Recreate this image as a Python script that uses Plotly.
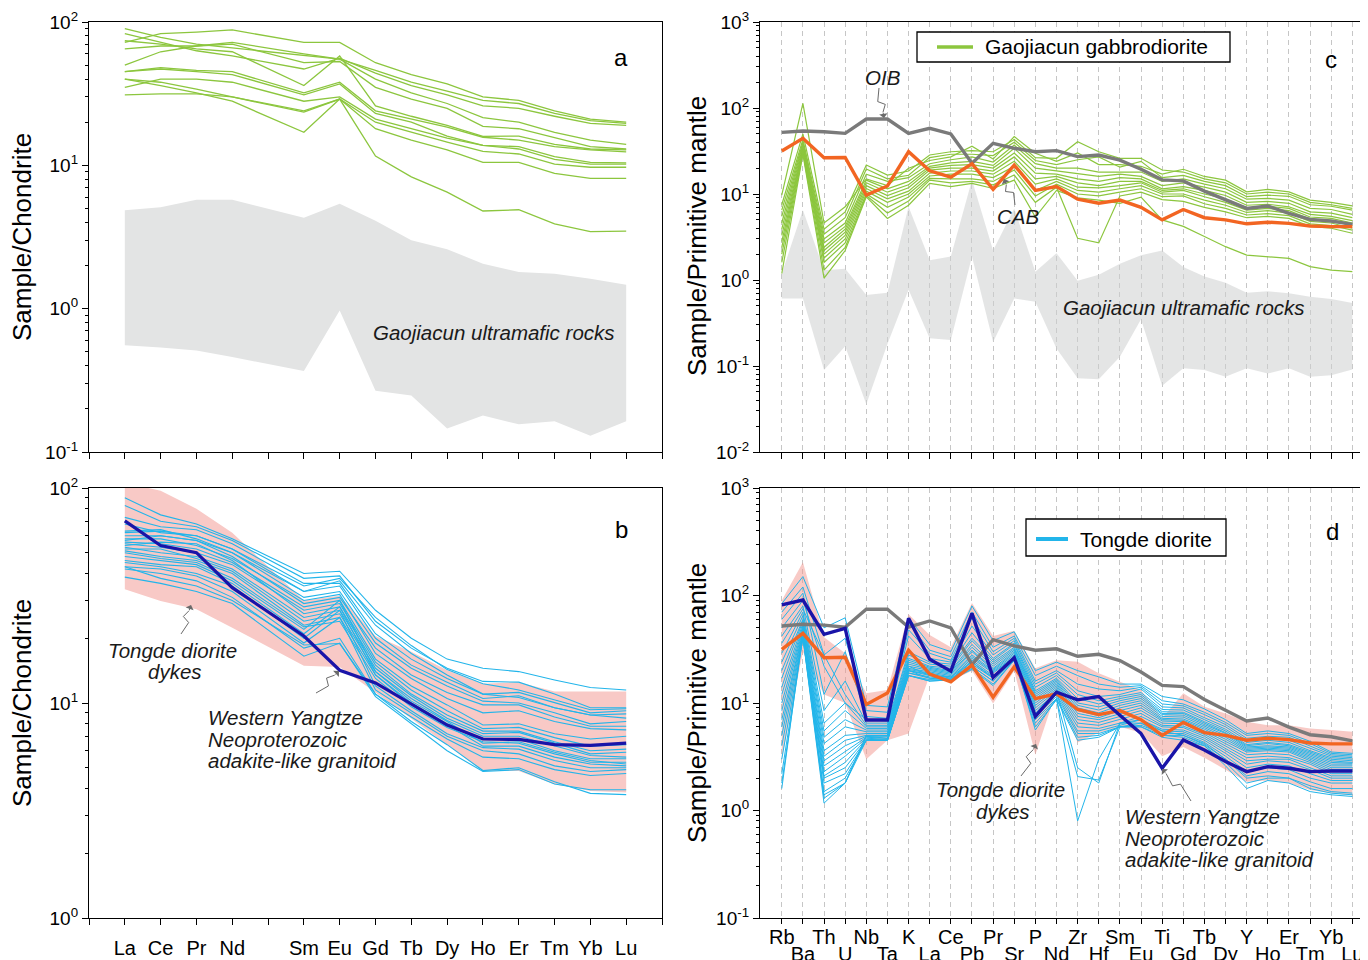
import math
import plotly.graph_objects as go

# The page body has an 8px margin, so the figure is drawn 8px smaller and every
# reference pixel position (x, y) maps to (x - 8, y - 8) inside the figure.
OFF = 8
W, H = 1368 - OFF, 960 - OFF
FONT = "Liberation Sans, Arial, Helvetica, sans-serif"

GREEN = "#8cc63e"
CYAN = "#22b5ea"
BLUE = "#1a14a8"
ORANGE = "#f26522"
OIBGRAY = "#7a7a7a"
BAND_GRAY = "rgba(205,207,207,0.55)"
BAND_PINK = "rgba(242,150,142,0.5)"

# ---------------- categories ----------------
ree_labels = ["La", "Ce", "Pr", "Nd", "Sm", "Eu", "Gd", "Tb", "Dy", "Ho", "Er", "Tm", "Yb", "Lu"]
ree_x = [0, 1, 2, 3, 5, 6, 7, 8, 9, 10, 11, 12, 13, 14]          # Pm slot (4) left empty
spider_labels = ["Rb", "Ba", "Th", "U", "Nb", "Ta", "K", "La", "Ce", "Pb", "Pr", "Sr", "P", "Nd",
                 "Zr", "Hf", "Sm", "Eu", "Ti", "Gd", "Tb", "Dy", "Y", "Ho", "Er", "Tm", "Yb", "Lu"]
spider_x = list(range(len(spider_labels)))

# ---------------- panel a: chondrite-normalised REE, Gaojiacun gabbrodiorite ----------------
gabbro_ree = [
    [72, 83, 85, 88, 72, 72, 52, 43, 37, 30, 28.4, 24, 21, 20],
    [90, 78, 70, 66, 58, 55, 46, 38, 33, 28.4, 27, 23, 20.5, 19.6],
    [83, 72, 63, 58, 47, 56, 44, 36, 31, 26, 25, 22, 19.6, 19],
    [65, 68, 68, 72, 60, 55, 40, 32, 27, 21.5, 20, 17, 15, 14],
    [50, 62, 68, 70, 52, 53, 35, 29, 25, 18.7, 18, 15.5, 13.5, 13],
    [74, 70, 65, 62, 36, 58, 26, 22, 19, 15.9, 16, 14, 13, 12.8],
    [45, 48, 46, 45, 32, 38, 24, 21, 18.5, 15.7, 15, 13.5, 12.8, 12.4],
    [45, 47, 45, 43, 31, 37, 23, 20, 16, 13.8, 13.5, 11.5, 10.5, 10.4],
    [35, 40, 40, 38, 28, 30, 21, 18, 15.5, 13.8, 13, 11, 10.2, 10.2],
    [40, 36, 32, 28, 17, 29, 11.6, 8.3, 6.5, 4.8, 4.9, 3.9, 3.45, 3.47],
    [31, 31.5, 31.5, 30, 23.5, 29, 18, 15, 12.8, 10.5, 10.5, 8.8, 8.1, 8.1],
    [40, 38, 34, 30, 24, 29, 20, 17, 14.5, 12.5, 12, 10.2, 9.7, 9.7],
]
ultra_ree_upper = [4.86, 5.1, 5.75, 5.75, 4.3, 5.4, 4.1, 3.0, 2.6, 2.06, 1.8, 1.75, 1.62, 1.47]
ultra_ree_lower = [0.555, 0.535, 0.51, 0.46, 0.367, 0.97, 0.267, 0.248, 0.146, 0.18, 0.156, 0.164, 0.13, 0.164]

# ---------------- panel b: Tongde diorite REE ----------------
tongde_ree = [
    [90, 75, 68, 58, 40, 41, 27, 20, 16, 14.5, 14, 12.8, 11.8, 11.5],
    [83, 70, 66, 57, 38, 39, 24, 18, 14.5, 12.6, 12.5, 11, 9.5, 9.5],
    [73, 66, 64, 55, 36, 36, 21, 16, 13, 11, 11.2, 10, 9, 9.2],
    [68, 62, 60, 52, 33, 35, 20, 15, 12.5, 10.5, 10.8, 9.5, 8.8, 8.9],
    [63, 64, 58, 50, 31, 33, 19, 14.5, 12, 10.2, 10, 9, 8, 8.2],
    [60, 60, 57, 48, 29, 31, 18, 13.5, 11.2, 9.8, 9.8, 8.6, 7.8, 7.8],
    [58, 58, 54, 47, 30, 32, 17, 13, 10.5, 9, 9.2, 8.2, 7.6, 7.5],
    [56, 55, 52, 45, 28, 30, 16, 12, 9.8, 7.9, 8, 7.2, 6.8, 7],
    [55, 53, 50, 44, 27, 29, 15.5, 11.5, 9.2, 7.6, 7.7, 6.9, 6.3, 6.4],
    [54, 56, 55, 46, 26, 28, 15, 11, 8.8, 7.4, 7.4, 6.6, 6.0, 6.1],
    [53, 50, 48, 42, 25, 27, 14.5, 10.8, 8.5, 7.2, 7.3, 6.5, 5.8, 5.9],
    [52, 52, 47, 41, 24, 26, 14, 10.5, 8.3, 7, 7, 6.3, 5.7, 5.6],
    [51, 48, 46, 40, 23, 25, 13.5, 10, 8, 6.8, 6.8, 6.0, 5.5, 5.5],
    [50, 47, 45, 38, 22.6, 24, 13, 9.6, 7.7, 6.6, 6.5, 5.8, 5.3, 5.3],
    [48, 46, 44, 37, 22, 30, 14, 10.2, 8.2, 6.5, 6.6, 5.9, 5.4, 5.2],
    [46, 44, 43, 36, 21, 28, 13.5, 9.8, 7.9, 6.3, 6.3, 5.6, 5.2, 5.1],
    [45, 43, 40, 35, 20, 27, 12, 9.2, 7.2, 6.2, 6.1, 5.4, 5.0, 5.0],
    [43, 42, 39, 33, 19, 25, 11.5, 9.0, 7.0, 6.0, 5.8, 5.1, 4.8, 4.9],
    [42, 40, 37, 31, 18, 20, 11, 8.6, 6.8, 5.6, 5.5, 4.9, 4.6, 4.7],
    [38.5, 36, 33, 29, 16.5, 19, 10.7, 8, 6.0, 4.8, 4.9, 4.2, 3.95, 3.95],
    [43, 38, 35, 30, 18.6, 18.9, 11, 8.2, 6.4, 4.85, 5.0, 4.3, 3.8, 3.75],
    [57, 60, 57, 50, 33, 37, 23, 17, 13.5, 11, 10.6, 9.5, 8.8, 8.5],
    [62, 63, 60, 52, 35, 38, 25, 18.5, 14.3, 12.3, 11.5, 10.3, 9.3, 9.4],
]
dykes_ree_upper = [106, 97, 80, 62, 30, 31.5, 20.5, 17.3, 14.2, 12.3, 12.5, 11.3, 11.3, 11.3]
dykes_ree_lower = [33.8, 29.8, 27.3, 22.4, 14.9, 14.7, 11.2, 8.4, 6.4, 4.83, 4.83, 4.19, 3.9, 3.83]
wy_ree = [70.3, 54, 50, 34.4, 20.5, 14.2, 12.4, 9.9, 7.9, 6.8, 6.77, 6.4, 6.35, 6.5]

# ---------------- panel c: primitive-mantle spider, Gaojiacun gabbrodiorite ----------------
gabbro_spider = [
    [9.7, 113, 4.6, 7.1, 15, 12.5, 19.9, 24.5, 27, 36, 25.5, 46.5, 29.7, 24, 30, 22, 22, 21, 17, 19.4, 16, 14.5, 10.6, 11.3, 10.6, 8.5, 8, 7.26],
    [7.5, 50, 3.9, 6.2, 21.7, 16.6, 18.5, 28.4, 31, 32, 31, 43, 26.5, 26, 40.6, 31, 26, 26, 19, 18, 15, 13.5, 10, 10.5, 10, 8, 7.5, 6.8],
    [6.5, 43, 3.4, 5.3, 19.5, 15, 16.5, 26.5, 29, 29, 28, 40, 24.5, 22, 25, 27, 20.5, 24, 15.5, 16.5, 14, 12.5, 9.3, 9.7, 9.4, 7.5, 7.2, 6.5],
    [5.5, 40, 3.0, 4.6, 17, 14, 15.5, 22.5, 25, 27, 23.5, 37, 22.5, 20, 20, 18, 18, 18, 14, 15, 13, 11.5, 8.7, 8.9, 8.5, 6.8, 6.6, 5.8],
    [4.6, 38, 2.7, 4.2, 14.5, 11.5, 14, 21, 23, 24, 21.5, 34, 20, 18.5, 17, 16, 17, 16, 12.5, 13.5, 12, 10.5, 8, 8.2, 7.8, 6.2, 6, 5.3],
    [3.9, 36, 2.4, 3.9, 13.5, 10.5, 12.8, 20, 21.5, 22, 20, 30, 17.5, 17, 15, 14, 15.5, 15, 11.5, 12.2, 11, 9.6, 7.4, 7.6, 7.1, 5.8, 5.5, 4.9],
    [3.3, 34, 2.2, 3.6, 12.5, 9.6, 11.8, 19, 20, 20, 18.5, 27, 15, 16, 13.5, 12.5, 14, 14, 11, 11.5, 10, 8.8, 6.9, 7.2, 6.8, 5.4, 5.2, 4.6],
    [2.8, 33, 2.0, 3.3, 11.6, 8.8, 10.8, 17.5, 18.5, 18.5, 17, 24, 13, 15, 12, 11.8, 12.5, 13.5, 10.5, 11, 9.3, 8, 6.5, 6.8, 6.4, 5.1, 4.9, 4.3],
    [2.4, 32, 1.8, 3.0, 10.8, 8, 10, 16.2, 17, 17, 15.5, 21, 11, 14, 11, 10.5, 11.5, 12.5, 10, 10, 8.5, 7.4, 6.1, 6.4, 6, 4.8, 4.6, 4.0],
    [2.0, 31, 1.6, 2.7, 10, 7, 9.2, 15.2, 15, 15, 14, 19, 9.5, 13, 10, 9.5, 10.5, 11.5, 9.3, 9.5, 7.7, 6.8, 5.7, 5.9, 5.6, 4.5, 4.3, 3.8],
    [1.6, 30, 1.3, 2.4, 9.6, 6, 8.3, 14.5, 13.5, 14, 12.8, 16.6, 8, 12, 3.05, 2.7, 9.5, 10.5, 8.6, 8.2, 7, 6.2, 5.3, 5.5, 5.2, 4.2, 4.0, 3.5],
    [1.19, 29, 1.05, 2.2, 9.3, 5.2, 7.4, 13.3, 12.2, 13.3, 11.6, 14.5, 5.4, 11, 9, 8.5, 7.8, 9.2, 5, 4.2, 3.2, 2.44, 1.95, 1.87, 1.78, 1.43, 1.3, 1.25],
]
ultra_spider_upper = [1.19, 6.5, 1.3, 1.35, 0.67, 0.71, 7.1, 1.7, 1.87, 14.5, 2.2, 6.8, 1.25, 2.05,
                      0.98, 1.15, 1.55, 1.94, 2.2, 1.42, 1.1, 0.93, 0.71, 0.74, 0.7, 0.64, 0.6, 0.54]
ultra_spider_lower = [0.61, 0.61, 0.09, 0.17, 0.036, 0.18, 0.77, 0.21, 0.2, 1.87, 0.19, 0.61, 0.56, 0.16,
                      0.072, 0.07, 0.128, 0.35, 0.059, 0.094, 0.09, 0.075, 0.094, 0.082, 0.094, 0.075, 0.078, 0.091]
oib_spider = [52, 54, 53, 50.7, 74.5, 74.5, 50.7, 58, 50, 22.8, 38.8, 34, 31, 31.9,
              27.2, 28.4, 24.8, 19.4, 14.6, 14.2, 10.8, 8.5, 6.8, 7.25, 5.96, 5.07, 4.85, 4.44]
cab_spider = [31.6, 44.4, 26.4, 26.6, 9.7, 12.4, 31, 18.6, 15.7, 22.5, 11.3, 21.7, 11, 12.2,
              8.7, 7.8, 8.5, 7.0, 5.0, 6.6, 5.3, 5.0, 4.5, 4.7, 4.56, 4.25, 4.17, 4.17]

# ---------------- panel d: primitive-mantle spider, Tongde diorite ----------------
tongde_spider = [
    [84, 150, 50, 62, 9.5, 9.2, 62, 35, 30, 80, 38, 46, 20, 24, 20, 17.5, 15, 15, 11.5, 10.7, 8.8, 7.0, 5.2, 5.5, 5.2, 4.4, 3.5, 3.4],
    [70, 120, 28, 40, 8.5, 8.2, 55, 31, 27, 70, 33, 42, 18, 22, 18, 15, 14, 14.5, 10.5, 9.8, 8.2, 6.6, 5.0, 5.2, 5.0, 4.2, 3.4, 3.3],
    [60, 105, 12, 30, 7.5, 7.2, 48, 29, 25, 62, 30, 40, 16, 20, 15, 13.5, 13, 14, 9.8, 9.4, 7.8, 6.3, 4.7, 4.9, 4.8, 4.0, 3.3, 3.2],
    [50, 90, 22, 10, 7.0, 6.8, 42, 26, 24, 52, 28, 38, 15, 19, 13, 11.5, 12, 13.5, 9.2, 9.0, 7.3, 6.0, 4.5, 4.7, 4.5, 3.8, 3.2, 3.1],
    [42, 80, 8.5, 16, 6.5, 6.5, 30, 24, 23, 45, 26, 36, 14, 18, 12, 10.5, 11.5, 12.5, 8.7, 8.6, 7.0, 5.7, 4.3, 4.5, 4.3, 3.6, 3.1, 3.0],
    [36, 75, 28, 12, 6.2, 6.2, 28, 23, 22, 40, 25, 35, 13, 17, 11, 9.8, 11, 12, 8.3, 8.2, 6.7, 5.5, 4.1, 4.3, 4.1, 3.5, 3.0, 2.9],
    [29, 70, 6.5, 10, 6.0, 6.0, 26, 22, 21, 38, 24, 33, 12.5, 16.5, 10, 9.2, 10.5, 11.5, 8.0, 8.0, 6.5, 5.3, 4.0, 4.2, 4.0, 3.4, 2.9, 2.8],
    [24, 65, 5.5, 8.5, 5.8, 5.8, 25, 21.5, 20, 35, 23, 32, 12, 16, 9.5, 8.6, 10, 11, 7.8, 7.7, 6.3, 5.2, 3.9, 4.0, 3.9, 3.3, 2.8, 2.75],
    [20, 60, 4.8, 7, 5.6, 5.6, 24, 21, 19.5, 33, 22, 31, 11.5, 15.5, 9, 8.1, 9.5, 10.5, 7.5, 7.4, 6.1, 5.0, 3.8, 3.9, 3.8, 3.2, 2.7, 2.7],
    [17, 58, 4.2, 6, 5.4, 5.4, 23, 20.5, 19, 31, 21, 30, 11, 15, 8.5, 7.6, 9, 10, 7.2, 7.1, 5.9, 4.8, 3.7, 3.8, 3.7, 3.1, 2.6, 2.6],
    [14, 55, 3.6, 5, 5.2, 5.2, 22, 20, 18.5, 30, 20.5, 29, 10.5, 14.5, 8, 7.3, 8.5, 9.5, 7.0, 6.9, 5.7, 4.6, 3.6, 3.7, 3.6, 3.0, 2.5, 2.5],
    [12, 52, 3.2, 4.5, 5.0, 5.0, 21, 19.5, 18, 28, 20, 28, 10, 14, 7.5, 7.0, 8, 9, 6.8, 6.7, 5.5, 4.4, 3.5, 3.6, 3.5, 2.9, 2.4, 2.4],
    [10, 50, 2.9, 4, 4.9, 4.9, 20.5, 19, 17.5, 27, 19.5, 27, 9.5, 13.5, 7, 6.6, 7.5, 8.5, 6.5, 6.4, 5.3, 4.2, 3.3, 3.4, 3.3, 2.8, 2.3, 2.3],
    [8.5, 48, 2.6, 3.5, 4.8, 4.7, 20, 18.5, 17, 26, 19, 26.5, 9, 13, 6.5, 6.2, 7, 8, 6.2, 6.1, 5.1, 4.0, 3.1, 3.2, 3.1, 2.7, 2.2, 2.2],
    [7, 46, 2.3, 3.2, 4.7, 4.6, 20, 18, 16.5, 25, 18, 26, 8.5, 12.5, 6, 5.8, 6.5, 7.5, 6.0, 5.9, 4.9, 3.8, 2.9, 3.0, 3.0, 2.5, 2.1, 2.1],
    [6, 45, 2.1, 2.8, 4.6, 4.5, 19, 17.5, 16.5, 24, 17.5, 25.5, 8, 12, 5.5, 5.5, 6.2, 7, 5.7, 5.6, 4.7, 3.6, 2.7, 2.9, 2.8, 2.4, 2.0, 2.0],
    [5, 43, 2.0, 2.5, 4.5, 4.5, 19, 17, 16.4, 23, 17, 25, 7.5, 11.5, 5.2, 5.2, 6, 6.5, 5.5, 5.4, 4.5, 3.4, 2.5, 2.7, 2.6, 2.2, 1.9, 1.9],
    [4, 42, 1.8, 2.2, 4.5, 4.5, 18, 16.5, 16.4, 22, 16, 25, 7, 11, 4.8, 5, 6, 6.2, 5.2, 5.2, 4.3, 3.2, 2.3, 2.5, 2.4, 2.0, 1.8, 1.8],
    [3, 41, 1.5, 2.0, 4.5, 4.5, 18, 16, 16.4, 21, 15, 25, 6.5, 10.8, 4.5, 4.8, 6, 6, 5.0, 5.0, 4.1, 3.0, 2.1, 2.3, 2.2, 1.85, 1.6, 1.6],
    [2.2, 41, 1.3, 1.8, 4.5, 4.5, 18, 16, 16.4, 20.5, 14.5, 25, 6, 10.7, 2.07, 1.92, 6, 6, 4.8, 4.5, 4.0, 2.8, 1.8, 2.0, 2.0, 1.6, 1.45, 1.4],
    [1.8, 41, 1.17, 1.8, 4.9, 4.7, 20, 17, 17, 22, 16, 26, 5.6, 11, 0.8, 3.0, 6.5, 6.5, 5.0, 4.8, 4.0, 2.6, 1.6, 1.9, 1.8, 1.5, 1.4, 1.35],
    [1.6, 45, 1.4, 1.8, 5.0, 5.0, 22, 18, 17.5, 24, 17, 27, 8, 13, 2.5, 1.8, 6.5, 7, 5.5, 5.0, 4.2, 3.0, 2.0, 2.1, 2.0, 1.7, 1.5, 1.45],
]
dykes_spider_upper = [90, 204, 41, 29, 12.3, 13.2, 67, 43, 33, 85, 42, 47, 21, 25,
                      24.2, 18.9, 15.8, 13.2, 7.2, 12.3, 9.25, 8.0, 6.7, 6.2, 6.2, 5.8, 5.6, 5.4]
dykes_spider_lower = [3.0, 30, 12, 10, 3.0, 4.5, 5.2, 18, 16, 20, 9.9, 20, 3.3, 13,
                      4.3, 5.3, 6.0, 5.3, 3.2, 3.9, 3.1, 2.4, 1.85, 1.9, 1.8, 1.55, 1.45, 1.39]
wy_spider = [81.7, 90.8, 43.5, 49.5, 6.95, 6.95, 61.4, 25.5, 19.8, 68.2, 17.3, 26.4, 7.5, 12.6,
             10.7, 11.5, 7.7, 5.2, 2.47, 4.53, 3.66, 2.85, 2.3, 2.56, 2.47, 2.3, 2.33, 2.33]

# ---------------- figure ----------------
fig = go.Figure()


def band(xs, upper, lower, color, xa, ya):
    fig.add_trace(go.Scatter(x=xs + xs[::-1], y=upper + lower[::-1], mode="lines",
                             fill="toself", fillcolor=color, line=dict(width=0),
                             hoverinfo="skip", showlegend=False, xaxis=xa, yaxis=ya))


def lines(xs, rows, color, width, xa, ya):
    for r in rows:
        fig.add_trace(go.Scatter(x=xs, y=r, mode="lines", line=dict(color=color, width=width),
                                 hoverinfo="skip", showlegend=False, xaxis=xa, yaxis=ya))


# a
band(ree_x, ultra_ree_upper, ultra_ree_lower, "#e3e4e4", "x", "y")
lines(ree_x, gabbro_ree, GREEN, 1.3, "x", "y")
# b
band(ree_x, dykes_ree_upper, dykes_ree_lower, "#f8c9c6", "x2", "y2")
lines(ree_x, tongde_ree, CYAN, 1.1, "x2", "y2")
lines(ree_x, [wy_ree], BLUE, 3.2, "x2", "y2")
# c
band(spider_x, ultra_spider_upper, ultra_spider_lower, BAND_GRAY, "x3", "y3")
lines(spider_x, gabbro_spider, GREEN, 1.2, "x3", "y3")
lines(spider_x, [oib_spider], OIBGRAY, 3.4, "x3", "y3")
lines(spider_x, [cab_spider], ORANGE, 3.4, "x3", "y3")
# d
band(spider_x, dykes_spider_upper, dykes_spider_lower, BAND_PINK, "x4", "y4")
lines(spider_x, tongde_spider, CYAN, 1.0, "x4", "y4")
lines(spider_x, [oib_spider], OIBGRAY, 3.4, "x4", "y4")
lines(spider_x, [cab_spider], ORANGE, 3.4, "x4", "y4")
lines(spider_x, [wy_spider], BLUE, 3.4, "x5", "y4")


def sup(e):
    return "10<sup>%d</sup>" % e


def minor_vals(e0, e1):
    return [k * 10.0 ** e for e in range(e0, e1) for k in range(2, 10)]


def hx(x):   # reference pixel -> paper fraction
    return (x - OFF) / W


def vy(y):
    return 1 - (y - OFF) / H


line_style = dict(showline=True, linecolor="black", linewidth=1.3, zeroline=False, automargin=False,
                  ticks="outside", tickcolor="black", tickwidth=1.2, fixedrange=True)
tickfont = dict(family=FONT, size=20, color="black")
yfont = dict(family=FONT, size=19, color="black")

ree_ticks = list(range(-1, 16))
ree_text_map = dict(zip(ree_x, ree_labels))
ree_ticktext = [ree_text_map.get(v, "") for v in ree_ticks]

dom_left = [hx(89), hx(662)]
dom_right = [hx(760), 1.0]
dom_top = [vy(452), vy(22)]
dom_bot = [vy(918), vy(488)]
sp_range = [-1.03, 27.74]

row1 = [l if i % 2 == 0 else "" for i, l in enumerate(spider_labels)]
odd_x = spider_x[1::2]
odd_lab = spider_labels[1::2]

fig.update_layout(
    width=W, height=H, margin=dict(l=0, r=0, t=0, b=0, autoexpand=False),
    paper_bgcolor="white", plot_bgcolor="white", showlegend=False, hovermode=False,
    font=dict(family=FONT, color="black"),
    xaxis=dict(domain=dom_left, anchor="y", range=[-1, 15], tickmode="array", tickvals=ree_ticks,
               ticktext=[""] * len(ree_ticks), ticklen=6, mirror=True, showgrid=False, **line_style),
    yaxis=dict(domain=dom_top, anchor="x", type="log", range=[-1, 2], tickmode="array",
               tickvals=[0.1, 1, 10, 100], ticktext=[sup(-1), sup(0), sup(1), sup(2)], tickfont=yfont,
               ticklen=6, mirror=True, showgrid=False,
               minor=dict(tickmode="array", tickvals=minor_vals(-1, 2), ticks="outside", ticklen=3,
                          tickcolor="black", tickwidth=1), **line_style),
    xaxis2=dict(domain=dom_left, anchor="y2", range=[-1, 15], tickmode="array", tickvals=ree_ticks,
                ticktext=ree_ticktext, tickfont=tickfont, ticklen=6, ticklabelstandoff=6,
                mirror=True, showgrid=False, **line_style),
    yaxis2=dict(domain=dom_bot, anchor="x2", type="log", range=[0, 2], tickmode="array",
                tickvals=[1, 10, 100], ticktext=[sup(0), sup(1), sup(2)], tickfont=yfont,
                ticklen=6, mirror=True, showgrid=False,
                minor=dict(tickmode="array", tickvals=minor_vals(0, 2), ticks="outside", ticklen=3,
                           tickcolor="black", tickwidth=1), **line_style),
    xaxis3=dict(domain=dom_right, anchor="y3", range=sp_range, tickmode="array", tickvals=spider_x,
                ticktext=[""] * len(spider_x), ticklen=6, mirror=True, showgrid=True,
                gridcolor="#c6c6c6", gridwidth=1, griddash="5px,4px", **line_style),
    yaxis3=dict(domain=dom_top, anchor="x3", type="log", range=[-2, 3], tickmode="array",
                tickvals=[0.01, 0.1, 1, 10, 100, 1000],
                ticktext=[sup(-2), sup(-1), sup(0), sup(1), sup(2), sup(3)], tickfont=yfont,
                ticklen=6, mirror=True, showgrid=False,
                minor=dict(tickmode="array", tickvals=minor_vals(-2, 3), ticks="outside", ticklen=3,
                           tickcolor="black", tickwidth=1), **line_style),
    xaxis4=dict(domain=dom_right, anchor="y4", range=sp_range, tickmode="array", tickvals=spider_x,
                ticktext=row1, tickfont=tickfont, ticklen=5, ticklabelstandoff=-4, mirror=True,
                showgrid=True, gridcolor="#c6c6c6", gridwidth=1, griddash="5px,4px", **line_style),
    xaxis5=dict(overlaying="x4", anchor="y4", side="bottom", range=sp_range, tickmode="array",
                tickvals=odd_x, ticktext=odd_lab, tickfont=tickfont, ticks="outside", ticklen=5,
                tickcolor="black", ticklabelstandoff=13, showline=False, showgrid=False,
                zeroline=False, fixedrange=True, automargin=False),
    yaxis4=dict(domain=dom_bot, anchor="x4", type="log", range=[-1, 3], tickmode="array",
                tickvals=[0.1, 1, 10, 100, 1000],
                ticktext=[sup(-1), sup(0), sup(1), sup(2), sup(3)], tickfont=yfont,
                ticklen=6, mirror=True, showgrid=False,
                minor=dict(tickmode="array", tickvals=minor_vals(-1, 3), ticks="outside", ticklen=3,
                           tickcolor="black", tickwidth=1), **line_style),
)

annotations = []
shapes = []


def text(x, y, s, size=20.5, italic=False, anchor="center", angle=0, color="#1a1a1a"):
    annotations.append(dict(xref="paper", yref="paper", x=hx(x), y=vy(y),
                            text=("<i>%s</i>" % s) if italic else s,
                            showarrow=False, xanchor=anchor, yanchor="middle", textangle=angle,
                            font=dict(family=FONT, size=size, color=color)))


def arrow(x0, y0, x1, y1):
    # hand-drawn style pointer: a thin zigzag leader ending in an arrowhead
    dx, dy = x1 - x0, y1 - y0
    L = math.hypot(dx, dy)
    ux, uy = dx / L, dy / L
    px_, py_ = -uy, ux
    mx, my = x0 + dx * 0.5, y0 + dy * 0.5
    k1 = (mx - ux * 2 + px_ * 3.5, my - uy * 2 + py_ * 3.5)
    k2 = (mx + ux * 2 - px_ * 3.5, my + uy * 2 - py_ * 3.5)
    pts = [(x0, y0), k1, k2, (x1 - ux * 6, y1 - uy * 6)]
    path = "M " + " L ".join("%.5f,%.5f" % (hx(a), vy(b)) for a, b in pts)
    shapes.append(dict(type="path", xref="paper", yref="paper", path=path,
                       line=dict(color="#6a6a6a", width=1), layer="above"))
    annotations.append(dict(xref="paper", yref="paper", x=hx(x1), y=vy(y1), text="", showarrow=True,
                            ax=-ux * 7, ay=-uy * 7, arrowhead=1, arrowsize=1.4, arrowwidth=1,
                            arrowcolor="#6a6a6a"))


# axis titles
text(22, 237, "Sample/Chondrite", size=26, angle=-90, color="black")
text(22, 703, "Sample/Chondrite", size=26, angle=-90, color="black")
text(697, 236, "Sample/Primitive mantle", size=26, angle=-90, color="black")
text(697, 703, "Sample/Primitive mantle", size=26, angle=-90, color="black")
# panel letters
text(621, 57, "a", size=24, color="black")
text(621, 529, "b", size=24, color="black")
text(1331, 59, "c", size=24, color="black")
text(1332, 531, "d", size=24, color="black")
# panel a
text(494, 332, "Gaojiacun ultramafic rocks", italic=True)
# panel b
text(172, 650, "Tongde diorite", italic=True)
text(175, 671, "dykes", italic=True)
text(206, 717, "Western Yangtze", italic=True, anchor="left")
text(206, 739, "Neoproterozoic", italic=True, anchor="left")
text(206, 760, "adakite-like granitoid", italic=True, anchor="left")
arrow(181, 634, 191, 605)
arrow(316, 693, 339, 671)
# panel c
text(882, 78, "OIB", italic=True)
text(1018, 216, "CAB", italic=True)
text(1184, 307, "Gaojiacun ultramafic rocks", italic=True)
arrow(879, 88, 884, 118)
arrow(1015, 205, 1004, 179)
# panel d
text(1000, 789, "Tongde diorite", italic=True)
text(1003, 811, "dykes", italic=True)
text(1123, 816, "Western Yangtze", italic=True, anchor="left")
text(1123, 838, "Neoproterozoic", italic=True, anchor="left")
text(1123, 859, "adakite-like granitoid", italic=True, anchor="left")
arrow(1021, 776, 1036, 744)
arrow(1191, 801, 1162, 769)

# legends
text(983, 47, "Gaojiacun gabbrodiorite", size=21, anchor="left", color="black")
text(1078, 539, "Tongde diorite", size=21, anchor="left", color="black")


def rect(x0, y0, x1, y1):
    shapes.append(dict(type="rect", xref="paper", yref="paper", x0=hx(x0), y0=vy(y1), x1=hx(x1), y1=vy(y0),
                       fillcolor="white", line=dict(color="black", width=1.3), layer="above"))


def seg(x0, y0, x1, y1, color, width):
    shapes.append(dict(type="line", xref="paper", yref="paper", x0=hx(x0), y0=vy(y0), x1=hx(x1), y1=vy(y1),
                       line=dict(color=color, width=width), layer="above"))


rect(917, 32, 1230, 62)
seg(937, 47, 973, 47, GREEN, 3.5)
rect(1026, 519, 1226, 556)
seg(1036, 539, 1068, 539, CYAN, 4)

fig.update_layout(annotations=annotations, shapes=shapes)

fig.write_html("out.html", config={"displayModeBar": False})
